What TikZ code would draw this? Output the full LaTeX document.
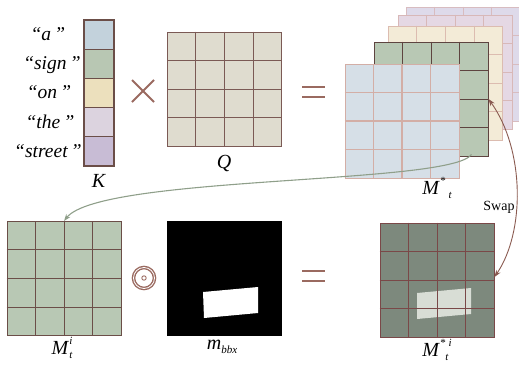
\documentclass[tikz,border=0pt]{standalone}
\usepackage{fontspec}
\setmainfont{Liberation Serif}
\usetikzlibrary{calc,arrows.meta}
\definecolor{kblue}{HTML}{C3D2DC}
\definecolor{kgreen}{HTML}{B8C7B3}
\definecolor{kyellow}{HTML}{ECE0BD}
\definecolor{kpink}{HTML}{DCD3DF}
\definecolor{kpurple}{HTML}{C8BCD5}
\definecolor{dbrown}{HTML}{6B4E48}
\definecolor{qfill}{HTML}{DFDCCF}
\definecolor{qline}{HTML}{7B5A55}
\definecolor{fblue}{HTML}{D6DFE7}
\definecolor{fline}{HTML}{D3AEA6}
\definecolor{gfill}{HTML}{B8C8B4}
\definecolor{gline}{HTML}{5E4440}
\definecolor{yfill}{HTML}{F3EBD7}
\definecolor{yline}{HTML}{DCBCB0}
\definecolor{pfill}{HTML}{E5D8E4}
\definecolor{pline}{HTML}{D8B8B8}
\definecolor{lfill}{HTML}{DEDAEA}
\definecolor{lline}{HTML}{D8BCC0}
\definecolor{sfill}{HTML}{7D897D}
\definecolor{sline}{HTML}{7A4848}
\definecolor{squad}{HTML}{D8DDD5}
\definecolor{opcol}{HTML}{9A6A60}
\definecolor{arrg}{HTML}{8F9F8A}
\definecolor{arrb}{HTML}{8A5A50}
\newcommand{\supsc}[1]{\raisebox{0.5em}{\fontsize{11}{11}\selectfont\itshape #1}}
\newcommand{\subsc}[1]{\raisebox{-0.2em}{\fontsize{11}{11}\selectfont\itshape #1}}
\newcommand{\cellgrid}[2]{%
  \foreach \i in {1,2,3} {
    \draw[#2] ($(#1.north west)!\i/4!(#1.north east)$) -- ($(#1.south west)!\i/4!(#1.south east)$);
    \draw[#2] ($(#1.north west)!\i/4!(#1.south west)$) -- ($(#1.north east)!\i/4!(#1.south east)$);
  }}
\tikzset{
  mat/.style={draw, inner sep=0pt, minimum width=114pt, minimum height=114pt, line width=1pt},
  kcell/.style={draw=dbrown, line width=1.2pt, inner sep=0pt, minimum width=30pt, minimum height=29.2pt},
  word/.style={anchor=base, font=\fontsize{19.5}{22}\selectfont\itshape, inner sep=0pt},
  lab/.style={font=\fontsize{20}{22}\selectfont, inner sep=0pt},
  op/.style={opcol, line width=2.6pt},
  tip/.style={-{Stealth[length=7pt,width=5pt]}},
}
\begin{document}
\begin{tikzpicture}[x=1pt,y=-1pt]
\useasboundingbox (0,0) rectangle (519,367);
% K column
\node[kcell, fill=kblue]   (k1) at (99,34.6) {};
\node[kcell, fill=kgreen]  (k2) at (99,63.8) {};
\node[kcell, fill=kyellow] (k3) at (99,93.0) {};
\node[kcell, fill=kpink]   (k4) at (99,122.2) {};
\node[kcell, fill=kpurple] (k5) at (99,151.4) {};
\node[word] (w1) at (48,40) {“a\,”};
\node[word] (w2) at (52,69) {“sign\,”};
\node[word] (w3) at (49,98) {“on\,”};
\node[word] (w4) at (50,128) {“the\,”};
\node[word] (w5) at (48,157) {“street\,”};
\node[lab] (kl) at (99,181) {\textit{K}};
% times
\draw[op, line width=1.8pt] (132,80) -- (154,102);
\draw[op, line width=1.8pt] (132,102) -- (154,80);
% Q
\node[mat, draw=qline, fill=qfill] (Q) at (224.5,89) {};
\cellgrid{Q}{qline, line width=1pt}
\node[lab] (ql) at (224,163) {\textit{Q}};
% equals
\draw[op] (302,87) -- (325,87);
\draw[op] (302,97) -- (325,97);
% stack
\node[mat, draw=lline, fill=lfill] (lilac) at (463,64) {};
\cellgrid{lilac}{lline, line width=1pt}
\node[mat, draw=pline, fill=pfill] (pink) at (455,72) {};
\cellgrid{pink}{pline, line width=1pt}
\node[mat, draw=yline, fill=yfill] (yellow) at (445.5,83) {};
\cellgrid{yellow}{yline, line width=1pt}
\node[mat, draw=gline, fill=gfill] (green) at (431,99) {};
\cellgrid{green}{gline, line width=1pt}
\node[mat, draw=fline, fill=fblue] (blue) at (402,121) {};
\cellgrid{blue}{fline, line width=1.2pt}
\node[lab] (msl) at (437,188) {\textit{M}\supsc{*}\,\subsc{t}};
% bottom row
\node[mat, draw=dbrown, fill=gfill] (Mti) at (64,278.5) {};
\cellgrid{Mti}{dbrown, line width=1pt}
\node[lab] (mtil) at (62,348) {\textit{M}\rlap{\supsc{i}}\subsc{t}};
\draw[opcol, line width=1.4pt, double=white, double distance=0.8pt] (144,278) circle (10.5pt);
\draw[opcol, line width=0.9pt] (144,278) circle (2.2pt);
\node[mat, draw=black, fill=black] (mask) at (224,278.5) {};
\fill[white] (203,292) -- (258,287) -- (258,313) -- (204,318) -- cycle;
\node[lab] (mbl) at (222,347) {\textit{m}\subsc{bbx}};
\draw[op] (302,271) -- (325,271);
\draw[op] (302,281) -- (325,281);
\node[mat, draw=sline, fill=sfill] (Mst) at (437,280) {};
\fill[squad] (417,293) -- (471,288) -- (471,314) -- (417,319) -- cycle;
\cellgrid{Mst}{sline, line width=1pt}
\node[lab] (mstl) at (437,350) {\textit{M}\supsc{*}\subsc{t}\supsc{i}};
% arrows
\draw[arrg, line width=1.1pt, tip] ([xshift=-17pt,yshift=2pt]green.south east) .. controls (450,185) and (100,175) .. (Mti.north);
\draw[arrb, line width=0.9pt, {Stealth[length=7pt,width=5pt]}-{Stealth[length=7pt,width=5pt]}] (green.east) .. controls (525,150) and (525,232) .. ([yshift=3pt]Mst.east);
\node[font=\fontsize{14}{16}\selectfont] (swap) at (499,207) {Swap};
\end{tikzpicture}
\end{document}
